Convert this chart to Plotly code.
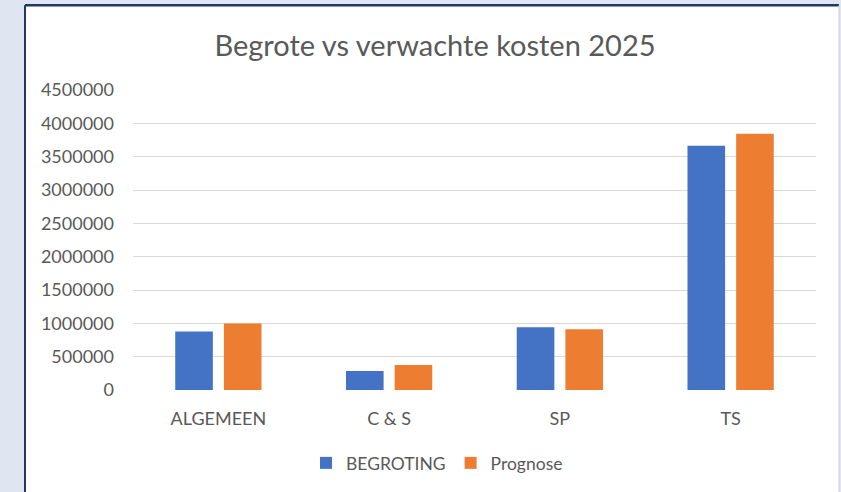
import plotly.graph_objects as go

categories = ["ALGEMEEN", "C & S", "SP", "TS"]
begroting = [879000, 284000, 943000, 3663000]
prognose = [998000, 374000, 913000, 3843000]
y_ticks = [0, 500000, 1000000, 1500000, 2000000, 2500000, 3000000, 3500000, 4000000, 4500000]

W, H = 841, 492
L, R, T, B = 133, 816, 90, 391  # plot area pixels
pw, ph = R - L, B - T

def px(x):
    return (x - L) / pw

def py(y):
    return (B - y) / ph

FONT = "Lato"
GRAY = "#595959"

fig = go.Figure()
fig.add_trace(go.Bar(name="BEGROTING", x=categories, y=begroting,
                     marker=dict(color="#4472C4", line=dict(width=0))))
fig.add_trace(go.Bar(name="Prognose", x=categories, y=prognose,
                     marker=dict(color="#ED7D31", line=dict(width=0))))

shapes = [
    dict(type="rect", xref="paper", yref="paper", layer="below",
         x0=px(25), x1=px(839), y0=py(500), y1=py(5),
         fillcolor="white", line=dict(width=0)),
    dict(type="line", xref="paper", yref="paper", layer="below",
         x0=px(25), x1=px(25), y0=py(500), y1=py(5),
         line=dict(color="#1f3864", width=2)),
    dict(type="line", xref="paper", yref="paper", layer="below",
         x0=px(25), x1=px(839), y0=py(5), y1=py(5),
         line=dict(color="#1f3864", width=2.5)),
    dict(type="line", xref="paper", yref="paper", layer="below",
         x0=px(839), x1=px(839), y0=py(500), y1=py(5),
         line=dict(color="#d0d0d0", width=1)),
]

fig.update_layout(
    width=W, height=H,
    margin=dict(l=L, r=W - R, t=T, b=H - B, pad=0),
    paper_bgcolor="#dfe6f2",
    plot_bgcolor="rgba(0,0,0,0)",
    font=dict(family=FONT, color=GRAY, size=18),
    barmode="group",
    bargap=0.43,
    bargroupgap=0.227,
    title=dict(text="Begrote vs verwachte kosten 2025", x=px(435), xref="paper",
               xanchor="center", y=1 - 46 / H, yanchor="middle",
               font=dict(family=FONT, size=29, color=GRAY)),
    legend=dict(orientation="h", xref="paper", x=px(437), xanchor="center",
                y=py(463), yanchor="middle", font=dict(size=17.5, color=GRAY),
                itemwidth=30, bgcolor="rgba(0,0,0,0)"),
    shapes=shapes,
    showlegend=True,
)
fig.update_yaxes(range=[0, 4500000], tickvals=y_ticks,
                 ticktext=[str(v) for v in y_ticks],
                 showgrid=True, gridcolor="#d9d9d9", gridwidth=1.3,
                 zeroline=False, showline=False, ticks="",
                 ticklabelstandoff=18, tickfont=dict(size=18, color=GRAY))
fig.update_xaxes(showgrid=False, showline=False, ticks="", zeroline=False,
                 ticklabelstandoff=16, tickfont=dict(size=18, color=GRAY))

fig.write_html("out.html",
               config={"displayModeBar": False},
               post_script="document.body.style.margin='0';"
                           "document.body.style.background='#dfe6f2';")
